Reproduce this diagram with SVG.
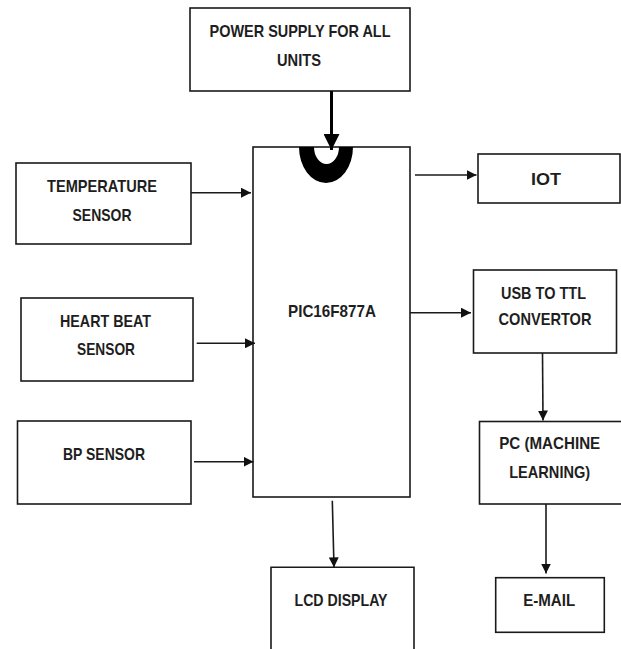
<svg xmlns="http://www.w3.org/2000/svg" width="621" height="649" viewBox="0 0 621 649">
<style>
.box{fill:#fff;stroke:#1a1a1a;stroke-width:1.6}
.lbl{font-family:"Liberation Sans",Arial,sans-serif;font-weight:bold;font-size:17px;fill:#1e1e1e;text-anchor:middle}
.con{stroke:#1a1a1a;stroke-width:1.6;fill:none}
</style>
<defs>
<marker id="ah" markerUnits="userSpaceOnUse" markerWidth="10" markerHeight="10" viewBox="0 0 10 10" refX="10" refY="5" orient="auto">
<path d="M0,0 L10,5 L0,10 Z" fill="#111"/>
</marker>
<marker id="ahBig" markerUnits="userSpaceOnUse" markerWidth="16" markerHeight="16" viewBox="0 0 16 16" refX="16" refY="8" orient="auto">
<path d="M0,0 L16,8 L0,16 Z" fill="#000"/>
</marker>
</defs>
<rect width="621" height="649" fill="#fff"/>

<g id="power">
<rect class="box" x="190" y="8" width="220" height="83"/>
<text class="lbl" x="300" y="37" textLength="181" lengthAdjust="spacingAndGlyphs">POWER SUPPLY FOR ALL</text>
<text class="lbl" x="299" y="66" textLength="44" lengthAdjust="spacingAndGlyphs">UNITS</text>
</g>

<g id="pic">
<rect class="box" x="253" y="147" width="157" height="350"/>
<path d="M299,147 A27,36 0 0 0 353,147 Z M314,147 A12.5,17 0 0 0 339,147 Z" fill="#000" fill-rule="evenodd"/>
<text class="lbl" x="332" y="317" font-size="19" textLength="88" lengthAdjust="spacingAndGlyphs">PIC16F877A</text>
</g>

<g id="temp">
<rect class="box" x="16" y="163" width="175" height="81"/>
<text class="lbl" x="102" y="191.5" textLength="110" lengthAdjust="spacingAndGlyphs">TEMPERATURE</text>
<text class="lbl" x="102" y="220.5" textLength="59" lengthAdjust="spacingAndGlyphs">SENSOR</text>
</g>

<g id="heart">
<rect class="box" x="21" y="298" width="172" height="83"/>
<text class="lbl" x="105.5" y="326.5" textLength="91" lengthAdjust="spacingAndGlyphs">HEART BEAT</text>
<text class="lbl" x="106" y="355" textLength="58" lengthAdjust="spacingAndGlyphs">SENSOR</text>
</g>

<g id="bp">
<rect class="box" x="17.5" y="421" width="173.5" height="83"/>
<text class="lbl" x="104" y="460" textLength="82" lengthAdjust="spacingAndGlyphs">BP SENSOR</text>
</g>

<g id="iot">
<rect class="box" x="478" y="154" width="142" height="49"/>
<text class="lbl" x="546" y="185" textLength="30" lengthAdjust="spacingAndGlyphs">IOT</text>
</g>

<g id="usb">
<rect class="box" x="473.5" y="270" width="143" height="83"/>
<text class="lbl" x="543.5" y="299.3" textLength="85" lengthAdjust="spacingAndGlyphs">USB TO TTL</text>
<text class="lbl" x="545" y="325" textLength="93" lengthAdjust="spacingAndGlyphs">CONVERTOR</text>
</g>

<g id="pc">
<rect class="box" x="479.5" y="421.5" width="143" height="82.5"/>
<text class="lbl" x="549.7" y="449" textLength="101" lengthAdjust="spacingAndGlyphs">PC (MACHINE</text>
<text class="lbl" x="549.7" y="477.5" textLength="81" lengthAdjust="spacingAndGlyphs">LEARNING)</text>
</g>

<g id="email">
<rect class="box" x="495.7" y="577.7" width="108.6" height="54.6"/>
<text class="lbl" x="549.2" y="605.7" textLength="52" lengthAdjust="spacingAndGlyphs">E-MAIL</text>
</g>

<g id="lcd">
<path class="box" d="M271,652 L271,567.3 L414,567.3 L414,652"/>
<text class="lbl" x="341" y="605.7" textLength="93" lengthAdjust="spacingAndGlyphs">LCD DISPLAY</text>
</g>

<g id="connectors">
<line x1="331.5" y1="91" x2="331.5" y2="150" stroke="#000" stroke-width="3" marker-end="url(#ahBig)"/>
<line class="con" x1="191" y1="192.7" x2="251" y2="192.7" marker-end="url(#ah)"/>
<line class="con" x1="196.7" y1="343.3" x2="255" y2="343.3" marker-end="url(#ah)"/>
<line class="con" x1="194" y1="461.7" x2="253.5" y2="461.7" marker-end="url(#ah)"/>
<line class="con" x1="415" y1="175" x2="476.5" y2="175" marker-end="url(#ah)"/>
<line class="con" x1="410" y1="312.7" x2="471" y2="312.7" marker-end="url(#ah)"/>
<line class="con" x1="542.5" y1="353" x2="543" y2="420.5" marker-end="url(#ah)"/>
<line class="con" x1="546" y1="504" x2="546" y2="573.5" marker-end="url(#ah)"/>
<line class="con" x1="332.3" y1="500.7" x2="334" y2="567.3" marker-end="url(#ah)"/>
</g>
</svg>
